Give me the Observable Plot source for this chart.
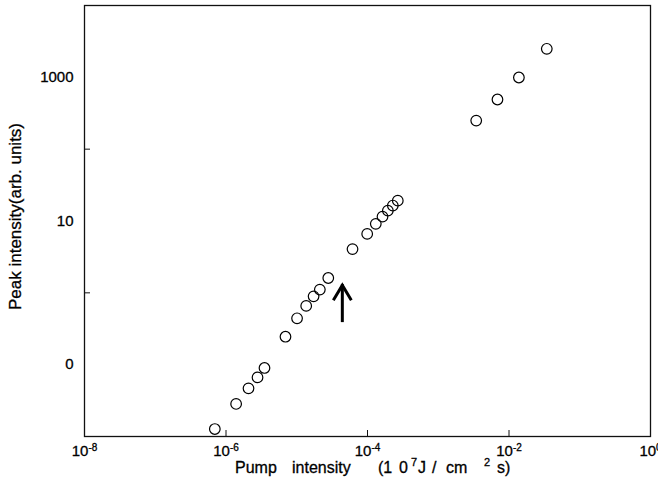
<!DOCTYPE html>
<html>
<head>
<meta charset="utf-8">
<script src="https://cdn.jsdelivr.net/npm/d3@7"></script>
<script src="https://cdn.jsdelivr.net/npm/@observablehq/plot@0.6"></script>
<style>
  html, body { margin: 0; padding: 0; background: #fff; }
  #chart svg { display: block; }
  #chart svg text { stroke: #000; stroke-width: 0.3px; }
</style>
</head>
<body>
<div id="chart"></div>
<script>
// Pump intensity (10^7 J/cm^2 s)
const pumpIntensity = [6.95e-7, 1.39e-6, 2.08e-6, 2.79e-6, 3.50e-6, 6.93e-6, 1.01e-5, 1.36e-5, 1.73e-5, 2.12e-5, 2.79e-5,
  6.14e-5, 9.9e-5, 1.31e-4, 1.63e-4, 1.94e-4, 2.28e-4, 2.68e-4, 3.44e-3, 6.87e-3, 1.38e-2, 3.42e-2];
// Peak intensity (arb. units)
const peakIntensity = [0.0127, 0.0284, 0.0468, 0.0665, 0.090, 0.245, 0.442, 0.658, 0.893, 1.11, 1.61,
  4.06, 6.61, 9.12, 11.5, 13.96, 16.4, 19.2, 250, 491, 994, 2495];

// Axis ticks
const xTickValues = [1e-8, 1e-6, 1e-4, 1e-2, 1];
const xTickExponents = ["-8", "-6", "-4", "-2", "0"];
const xInnerTicks = [1e-6, 1e-4, 1e-2];
const yTickValues = [1000, 10, 0.1];
const yTickLabels = ["1000", "10", "0"];
const yInnerTicks = [100, 1];

// Arrow annotation (data units)
const arrowX = [4.48e-5];
const arrowFromY = [0.385];
const arrowToY = [1.30];

const yTitle = "Peak intensity(arb. units)";
// x title pieces: [text, superscript?]
const xTitleParts = [["Pump", false], ["intensity", false], ["(1", false], ["0", false], ["7", true],
  ["J", false], ["/", false], ["cm", false], ["2", true], ["s)", false]];
const xTitleOffsets = [235, 292, 378, 399, 411, 418, 432, 446, 484, 497];

const W = 658, H = 495;
const mL = 84, mR = 8, mT = 5, mB = 59;
const innerW = W - mL - mR, innerH = H - mT - mB;

const data = pumpIntensity.map((x, i) => ({x, y: peakIntensity[i]}));

const chart = Plot.plot({
  width: W, height: H,
  marginLeft: mL, marginRight: mR, marginTop: mT, marginBottom: mB,
  style: {fontFamily: "'Liberation Sans', Arial, Helvetica, sans-serif", color: "#000", background: "#fff"},
  x: {type: "log", domain: [1e-8, 1]},
  y: {type: "log", domain: [0.01, 1e4]},
  marks: [
    Plot.axisX({ticks: xTickValues, tickSize: 0, tickPadding: 9,
      tickFormat: d => "10^" + xTickExponents[xTickValues.indexOf(d)], label: null}),
    Plot.axisY({ticks: yTickValues, tickSize: 0, tickPadding: 11,
      tickFormat: d => yTickLabels[yTickValues.indexOf(d)], label: null}),
    Plot.tickX(xInnerTicks, {x: d => d, insetTop: innerH - 6, stroke: "#111", strokeWidth: 1}),
    Plot.tickY(yInnerTicks, {y: d => d, insetRight: innerW - 6, stroke: "#111", strokeWidth: 1}),
    Plot.frame({stroke: "#111", strokeWidth: 1.3}),
    Plot.dot(data, {x: "x", y: "y", r: 5.3, stroke: "#000", strokeWidth: 1.2, fill: "none"})
  ]
});

document.getElementById("chart").appendChild(chart);

const svg = d3.select(chart);

// y tick label size
svg.selectAll("g[aria-label='y-axis tick label'] text").style("font-size", "15px");

// superscript exponents on x tick labels
svg.selectAll("g[aria-label='x-axis tick label'] text").each(function() {
  const t = d3.select(this);
  const parts = t.text().split("^");
  t.text("").style("font-size", "15px");
  t.append("tspan").text(parts[0]);
  t.append("tspan").attr("dy", "-0.55em").style("font-size", "10px").text(parts[1]);
});

// arrow through the plot's own scales
const sx = chart.scale("x"), sy = chart.scale("y");
const fx = sx.apply ? sx.apply : d3.scaleLog().domain(sx.domain).range(sx.range);
const fy = sy.apply ? sy.apply : d3.scaleLog().domain(sy.domain).range(sy.range);
arrowX.forEach((ax, i) => {
  const px = fx(ax), y1 = fy(arrowFromY[i]), y2 = fy(arrowToY[i]);
  const g = svg.append("g").attr("fill", "none").attr("stroke", "#000").attr("stroke-width", 3);
  g.append("path").attr("d", `M${px},${y1}L${px},${y2}`);
  g.append("path").attr("d", `M${px - 9},${y2 + 16}L${px},${y2 + 1}L${px + 9},${y2 + 16}`)
    .attr("stroke-linejoin", "miter");
});

// axis titles
svg.append("text")
  .attr("transform", `translate(17,${mT + innerH / 2 - 4}) rotate(-90)`)
  .attr("text-anchor", "middle").attr("dominant-baseline", "middle")
  .style("font-size", "17px").attr("fill", "#000")
  .text(yTitle);

const xt = svg.append("g").attr("fill", "#000").attr("text-anchor", "start");
xTitleParts.forEach(([s, sup], i) => {
  xt.append("text")
    .attr("x", xTitleOffsets[i]).attr("y", sup ? 466 : 473)
    .attr("text-anchor", "start")
    .style("font-size", sup ? "11px" : "16px")
    .text(s);
});
</script>
</body>
</html>
